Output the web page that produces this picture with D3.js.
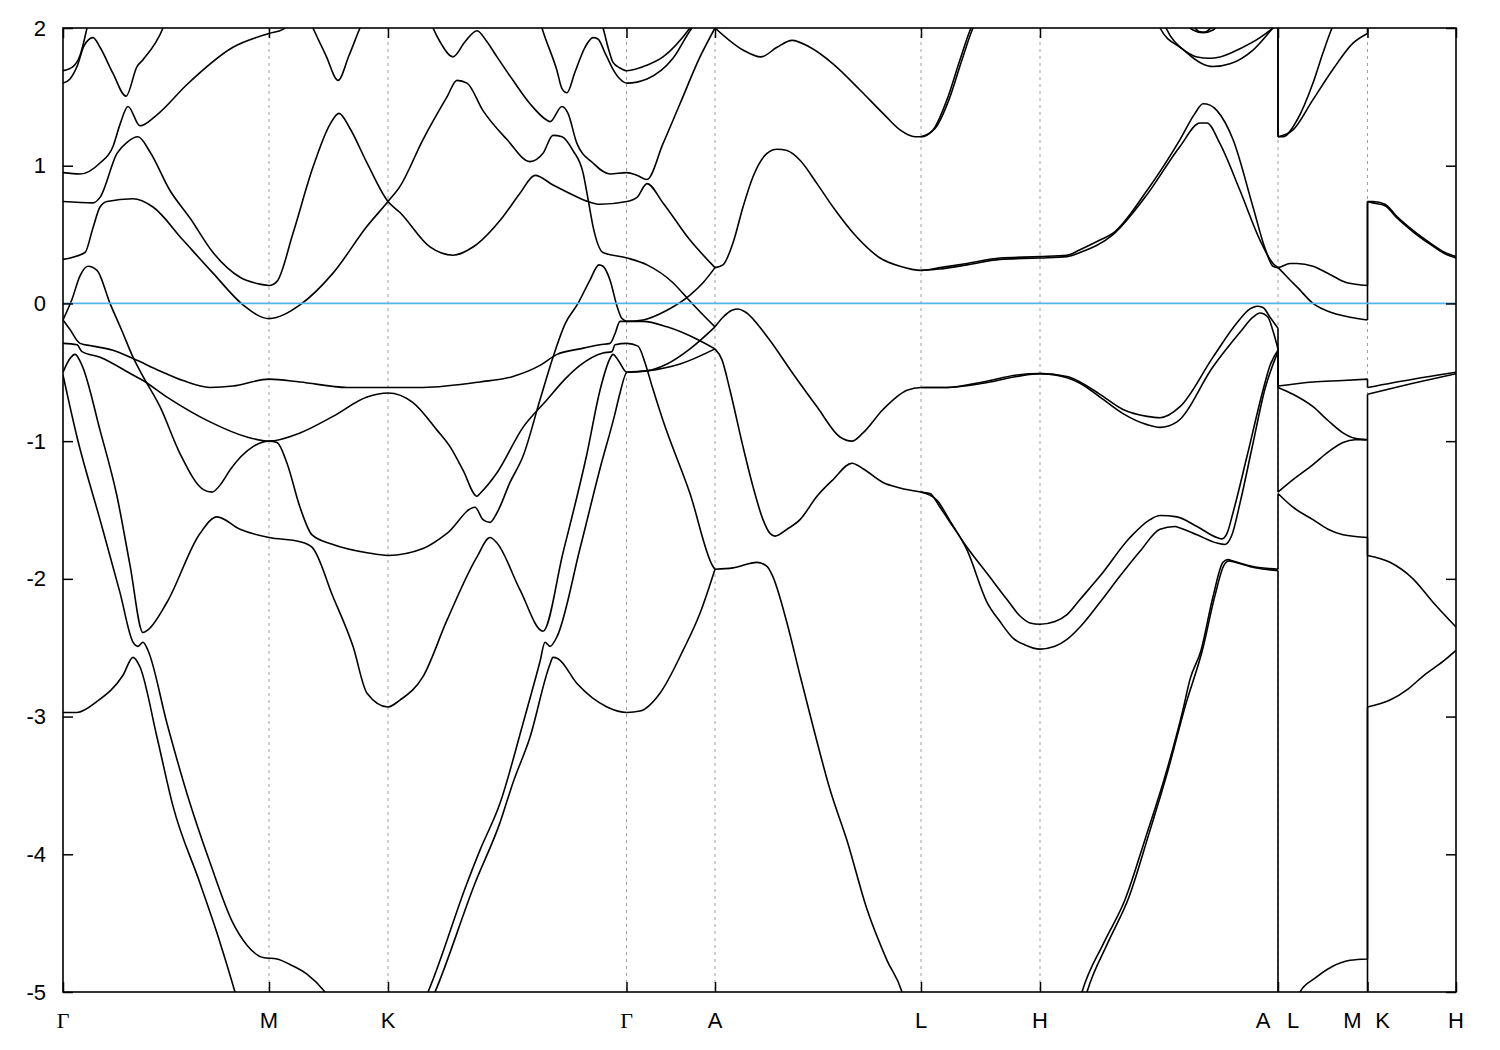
<!DOCTYPE html>
<html><head><meta charset="utf-8">
<script src="https://cdn.jsdelivr.net/npm/d3@7"></script>
<style>body{margin:0;background:#fff}</style>
</head><body>
<svg id="chart" width="1500" height="1050"></svg>
<script>
// ---- data ----
const kTicks = [0, 2.06, 3.25, 5.635, 6.52, 8.58, 9.77, 12.15, 13.045, 13.93];
const kLabels = ["Γ","M","K","Γ","A","L","H","A|L","M|K","H"];
const eTicks = [2,1,0,-1,-2,-3,-4,-5];
const eRange = [-5, 2];
const fermiLevel = 0;

const bandT1 = [[0,1.69],[0.10,1.72],[0.17,1.80],[0.24,2.0],[0.27,2.1]];
const bandT2 = [[0,1.60],[0.07,1.63],[0.14,1.72],[0.21,1.87],[0.30,1.93],[0.37,1.86],[0.50,1.67],[0.63,1.505],[0.74,1.72],[0.80,1.77],[1.00,2.0],[1.05,2.1]];
const bandB = [[0,0.95],[0.17,0.94],[0.37,1.02],[0.50,1.14],[0.57,1.30],[0.65,1.43],[0.77,1.29],[0.94,1.37],[1.24,1.59],[1.70,1.86],[2.06,1.96],[2.20,1.99],[2.27,2.05]];
const bandV = [[2.47,2.05],[2.50,2.0],[2.63,1.80],[2.75,1.62],[2.86,1.80],[2.97,2.0],[3.00,2.05]];
const bandC = [[0,0.74],[0.30,0.73],[0.37,0.77],[0.54,1.09],[0.64,1.17],[0.75,1.21],[0.87,1.10],[1.07,0.82],[1.27,0.62],[1.50,0.37],[1.77,0.19],[1.97,0.14],[2.06,0.13],[2.14,0.16],[2.30,0.51],[2.50,0.99],[2.67,1.30],[2.76,1.38],[2.87,1.27],[3.04,1.02],[3.25,0.74],[3.37,0.66],[3.67,0.41],[3.90,0.35],[4.10,0.41],[4.40,0.63],[4.57,0.80],[4.72,0.93],[4.90,0.86],[5.12,0.78],[5.25,0.74],[5.37,0.72],[5.64,0.74],[5.74,0.77],[5.84,0.87],[6.00,0.73],[6.27,0.46],[6.52,0.26]];
const bandD = [[0,0.32],[0.22,0.37],[0.30,0.55],[0.37,0.70],[0.44,0.74],[0.70,0.76],[0.90,0.70],[1.20,0.46],[1.50,0.22],[1.80,-0.01],[2.06,-0.11],[2.37,-0.01],[2.70,0.22],[3.04,0.56],[3.25,0.74],[3.37,0.85],[3.60,1.19],[3.84,1.50],[3.94,1.62],[4.04,1.60],[4.20,1.40],[4.44,1.19],[4.67,1.03],[4.80,1.09],[4.90,1.22],[4.99,1.21],[5.10,1.11],[5.20,0.95],[5.25,0.76],[5.30,0.56],[5.40,0.37],[5.64,0.33],[5.84,0.28],[6.10,0.15],[6.24,0.04],[6.37,-0.06],[6.52,-0.17]];
const bandT3 = [[3.67,2.05],[3.70,2.0],[3.77,1.90],[3.90,1.79],[4.02,1.90],[4.14,1.98],[4.24,1.90],[4.34,1.79],[4.50,1.62],[4.67,1.45],[4.84,1.33],[4.87,1.32],[4.99,1.43],[5.05,1.38],[5.14,1.16],[5.30,1.02],[5.47,0.94],[5.64,0.95],[5.74,0.93],[5.84,0.90],[6.00,1.16],[6.17,1.45],[6.37,1.79],[6.52,2.0]];
const bandT4 = [[4.77,2.05],[4.79,2.0],[4.94,1.69],[4.99,1.56],[5.04,1.53],[5.12,1.68],[5.22,1.86],[5.30,1.93],[5.35,1.92],[5.42,1.82],[5.50,1.70],[5.57,1.63],[5.64,1.60],[5.84,1.63],[6.10,1.78],[6.29,2.0],[6.35,2.05]];
const bandT5 = [[5.37,2.05],[5.40,2.0],[5.45,1.86],[5.50,1.75],[5.57,1.71],[5.64,1.69],[5.84,1.73],[6.00,1.79],[6.27,2.0],[6.32,2.05]];
const bandE = [[0,-0.12],[0.09,0.03],[0.17,0.20],[0.25,0.27],[0.34,0.24],[0.47,0.0],[0.59,-0.20],[0.70,-0.39],[0.80,-0.53],[0.97,-0.75],[1.17,-1.09],[1.40,-1.35],[1.49,-1.37],[1.59,-1.30],[1.67,-1.21],[1.90,-1.04],[2.06,-1.0],[2.14,-1.01],[2.24,-1.16],[2.37,-1.48],[2.49,-1.68],[2.70,-1.75],[3.04,-1.81],[3.25,-1.83],[3.60,-1.78],[3.84,-1.67],[4.12,-1.48],[4.20,-1.57],[4.27,-1.59],[4.34,-1.52],[4.47,-1.30],[4.60,-1.11],[4.77,-0.70],[4.90,-0.39],[5.02,-0.15],[5.15,0.0],[5.27,0.17],[5.36,0.28],[5.40,0.27],[5.47,0.17],[5.54,-0.02],[5.59,-0.11],[5.64,-0.13],[5.80,-0.13],[6.04,-0.17],[6.34,-0.26],[6.52,-0.33]];
const bandF1 = [[0,-0.12],[0.07,-0.19],[0.17,-0.29],[0.30,-0.31],[0.50,-0.34],[0.70,-0.40],[0.97,-0.49],[1.20,-0.56],[1.47,-0.61],[1.70,-0.60],[2.06,-0.55],[2.37,-0.57],[2.84,-0.61],[3.25,-0.61],[3.60,-0.61],[4.17,-0.57],[4.50,-0.53],[4.77,-0.45],[4.94,-0.37],[5.17,-0.33],[5.37,-0.30],[5.47,-0.29],[5.52,-0.22],[5.57,-0.13],[5.64,-0.13],[5.80,-0.12],[6.04,-0.05],[6.27,0.06],[6.40,0.15],[6.52,0.26]];
const bandF2 = [[0,-0.29],[0.14,-0.30],[0.19,-0.35],[0.37,-0.39],[0.70,-0.52],[0.80,-0.56],[1.04,-0.68],[1.47,-0.86],[1.84,-0.97],[2.06,-1.0],[2.37,-0.94],[2.70,-0.82],[3.04,-0.68],[3.25,-0.65],[3.50,-0.72],[3.74,-0.92],[3.87,-1.04],[4.00,-1.21],[4.14,-1.40],[4.17,-1.38],[4.34,-1.23],[4.60,-0.90],[4.84,-0.70],[5.02,-0.55],[5.17,-0.45],[5.40,-0.36],[5.49,-0.35],[5.52,-0.30],[5.64,-0.29],[5.75,-0.31],[5.82,-0.43],[5.89,-0.60],[6.00,-0.85],[6.27,-1.38],[6.50,-1.91],[6.52,-1.93]];
const bandG2 = [[0,-0.50],[0.07,-0.40],[0.12,-0.37],[0.19,-0.45],[0.37,-0.92],[0.54,-1.40],[0.67,-1.90],[0.80,-2.39],[0.85,-2.37],[1.04,-2.17],[1.37,-1.67],[1.54,-1.55],[1.77,-1.64],[2.06,-1.70],[2.37,-1.73],[2.49,-1.77],[2.70,-2.13],[2.90,-2.49],[3.04,-2.83],[3.25,-2.93],[3.37,-2.88],[3.60,-2.71],[3.84,-2.30],[4.14,-1.84],[4.27,-1.70],[4.34,-1.74],[4.57,-2.08],[4.80,-2.38],[5.00,-1.81],[5.24,-1.09],[5.37,-0.63],[5.47,-0.40],[5.50,-0.37],[5.55,-0.41],[5.64,-0.50],[5.84,-0.49],[6.04,-0.44],[6.27,-0.33],[6.52,-0.17]];
const bandG1 = [[0,-0.52],[0.14,-0.97],[0.37,-1.57],[0.57,-2.10],[0.70,-2.46],[0.75,-2.49],[0.80,-2.46],[0.85,-2.52],[1.04,-3.05],[1.24,-3.56],[1.47,-4.06],[1.70,-4.50],[1.84,-4.66],[2.00,-4.75],[2.14,-4.76],[2.27,-4.80],[2.44,-4.87],[2.62,-5.0],[2.67,-5.05]];
const bandG1r = [[3.62,-5.05],[3.65,-5.0],[4.04,-4.21],[4.17,-3.97],[4.37,-3.63],[4.60,-3.05],[4.77,-2.60],[4.82,-2.46],[4.87,-2.49],[4.94,-2.42],[5.17,-1.78],[5.37,-1.20],[5.52,-0.80],[5.57,-0.65],[5.64,-0.50],[5.84,-0.49],[6.17,-0.44],[6.52,-0.33]];
const bandH = [[0,-2.97],[0.14,-2.97],[0.34,-2.89],[0.60,-2.70],[0.70,-2.57],[0.77,-2.64],[0.94,-3.15],[1.10,-3.65],[1.37,-4.21],[1.57,-4.64],[1.72,-5.0],[1.74,-5.05]];
const bandHr = [[3.69,-5.05],[3.72,-5.0],[4.12,-4.21],[4.37,-3.77],[4.50,-3.48],[4.67,-3.15],[4.87,-2.62],[4.90,-2.57],[4.95,-2.58],[5.14,-2.76],[5.44,-2.93],[5.64,-2.97],[5.77,-2.96],[5.97,-2.83],[6.20,-2.52],[6.37,-2.25],[6.52,-1.93]];

const bandAL1 = [[6.52,2.0],[6.80,1.84],[6.98,1.79],[7.14,1.86],[7.29,1.91],[7.47,1.86],[7.70,1.74],[7.97,1.55],[8.20,1.38],[8.37,1.26],[8.52,1.21],[8.58,1.21],[8.70,1.26],[8.84,1.48],[8.97,1.77],[9.08,2.0],[9.12,2.06]];
const bandAL1b = [[8.58,1.21],[8.72,1.27],[8.86,1.48],[8.99,1.77],[9.10,2.0],[9.14,2.06]];
const bandAL2 = [[6.52,0.26],[6.60,0.28],[6.70,0.44],[6.80,0.70],[6.90,0.92],[7.04,1.09],[7.14,1.12],[7.24,1.11],[7.37,1.04],[7.54,0.87],[7.70,0.70],[7.94,0.48],[8.17,0.33],[8.37,0.27],[8.58,0.24],[8.77,0.26],[9.04,0.29],[9.37,0.33],[9.77,0.34],[10.04,0.35],[10.17,0.39],[10.37,0.46],[10.50,0.51],[10.84,0.82],[11.17,1.19],[11.32,1.38],[11.40,1.45],[11.47,1.44],[11.54,1.40],[11.70,1.19],[11.90,0.70],[12.02,0.40],[12.10,0.27],[12.15,0.26],[12.27,0.29],[12.34,0.29],[12.50,0.27],[12.67,0.21],[12.84,0.15],[13.045,0.13],[13.045,0.74],[13.10,0.74],[13.22,0.72],[13.34,0.63],[13.50,0.53],[13.67,0.44],[13.82,0.37],[13.93,0.34]];
const bandAL2b = [[8.58,0.24],[8.77,0.25],[9.04,0.28],[9.37,0.32],[9.77,0.33],[10.04,0.34],[10.17,0.37],[10.50,0.50],[10.84,0.79],[11.17,1.14],[11.37,1.31],[11.44,1.31],[11.57,1.16],[11.77,0.82],[11.97,0.46],[12.10,0.29],[12.15,0.26],[12.27,0.17],[12.34,0.12],[12.50,0.0],[12.70,-0.07],[12.87,-0.10],[13.045,-0.12],[13.045,0.74],[13.10,0.73],[13.22,0.71],[13.34,0.62],[13.50,0.52],[13.67,0.43],[13.82,0.36],[13.93,0.33]];
const bandAL3 = [[6.52,-0.17],[6.60,-0.10],[6.69,-0.05],[6.75,-0.04],[6.82,-0.06],[7.04,-0.24],[7.30,-0.51],[7.54,-0.75],[7.77,-0.97],[7.89,-1.0],[8.00,-0.94],[8.20,-0.77],[8.44,-0.63],[8.58,-0.61],[8.84,-0.61],[9.20,-0.57],[9.54,-0.52],[9.77,-0.51],[10.04,-0.53],[10.17,-0.57],[10.37,-0.66],[10.60,-0.77],[10.84,-0.82],[10.97,-0.83],[11.17,-0.75],[11.50,-0.39],[11.74,-0.14],[11.87,-0.04],[11.94,-0.02],[12.00,-0.03],[12.07,-0.10],[12.15,-0.18],[12.15,-0.60],[12.50,-0.57],[12.80,-0.56],[13.045,-0.55],[13.045,-0.61],[13.50,-0.55],[13.93,-0.50]];
const bandAL3b = [[8.58,-0.61],[8.84,-0.61],[9.20,-0.58],[9.54,-0.53],[9.77,-0.51],[10.04,-0.54],[10.17,-0.58],[10.37,-0.68],[10.60,-0.80],[10.84,-0.88],[10.97,-0.90],[11.14,-0.86],[11.50,-0.46],[11.77,-0.21],[11.90,-0.10],[11.97,-0.07],[12.05,-0.10],[12.10,-0.20],[12.15,-0.33],[12.15,-0.61],[12.30,-0.66],[12.50,-0.75],[12.65,-0.85],[12.80,-0.94],[12.92,-0.98],[13.045,-0.99],[13.045,-0.66],[13.50,-0.58],[13.93,-0.51]];
const bandAL4 = [[6.52,-0.33],[6.59,-0.41],[6.67,-0.63],[6.80,-1.04],[6.90,-1.33],[7.00,-1.57],[7.07,-1.67],[7.12,-1.69],[7.24,-1.64],[7.37,-1.57],[7.54,-1.40],[7.70,-1.28],[7.89,-1.16],[8.00,-1.20],[8.20,-1.30],[8.37,-1.34],[8.58,-1.37],[8.67,-1.38],[8.77,-1.48],[8.90,-1.62],[9.04,-1.77],[9.24,-1.96],[9.44,-2.15],[9.57,-2.27],[9.67,-2.32],[9.77,-2.33],[9.92,-2.31],[10.04,-2.26],[10.17,-2.15],[10.37,-1.98],[10.67,-1.70],[10.87,-1.57],[10.97,-1.54],[11.14,-1.55],[11.34,-1.62],[11.54,-1.70],[11.59,-1.71],[11.64,-1.67],[11.70,-1.52],[11.84,-1.11],[12.00,-0.63],[12.07,-0.45],[12.15,-0.34],[12.15,-1.37],[12.30,-1.28],[12.50,-1.17],[12.65,-1.08],[12.80,-1.01],[12.92,-0.99],[13.045,-0.99],[13.045,-1.83],[13.27,-1.88],[13.50,-2.0],[13.70,-2.17],[13.93,-2.35]];
const bandAL4b = [[8.58,-1.37],[8.74,-1.43],[8.87,-1.58],[9.04,-1.79],[9.24,-2.17],[9.37,-2.31],[9.50,-2.43],[9.62,-2.48],[9.77,-2.51],[9.92,-2.49],[10.04,-2.44],[10.17,-2.35],[10.37,-2.17],[10.57,-1.98],[10.77,-1.80],[10.97,-1.64],[11.12,-1.62],[11.17,-1.63],[11.34,-1.68],[11.54,-1.74],[11.62,-1.75],[11.69,-1.68],[11.77,-1.45],[11.89,-1.05],[12.02,-0.62],[12.15,-0.35]];
const bandAL5 = [[6.52,-1.93],[6.70,-1.92],[6.94,-1.88],[7.04,-1.91],[7.09,-1.97],[7.24,-2.32],[7.37,-2.70],[7.50,-3.07],[7.67,-3.53],[7.84,-3.90],[8.04,-4.40],[8.24,-4.77],[8.39,-5.0],[8.41,-5.05]];
const bandHA1 = [[10.17,-5.05],[10.19,-5.0],[10.41,-4.64],[10.62,-4.33],[10.83,-3.87],[11.03,-3.41],[11.20,-2.95],[11.27,-2.73],[11.38,-2.52],[11.50,-2.13],[11.60,-1.88],[11.65,-1.86],[11.70,-1.87],[11.90,-1.91],[12.15,-1.93],[12.15,-1.38],[12.30,-1.48],[12.50,-1.57],[12.65,-1.64],[12.80,-1.68],[13.045,-1.70],[13.045,-5.6]];
const bandHA1b = [[10.22,-5.05],[10.24,-5.0],[10.45,-4.64],[10.66,-4.31],[10.86,-3.85],[11.05,-3.39],[11.22,-2.93],[11.40,-2.50],[11.52,-2.12],[11.61,-1.90],[11.66,-1.87],[11.72,-1.88],[11.92,-1.92],[12.15,-1.94],[12.15,-5.6],[12.37,-5.0],[12.52,-4.90],[12.68,-4.82],[12.87,-4.77],[13.045,-4.76],[13.045,-2.93],[13.27,-2.88],[13.45,-2.80],[13.61,-2.70],[13.80,-2.60],[13.93,-2.52]];
const bandHAtop1 = [[10.94,2.05],[10.97,2.0],[11.17,1.86],[11.34,1.79],[11.47,1.78],[11.57,1.79],[11.77,1.85],[11.97,1.93],[12.10,2.0],[12.15,2.03],[12.15,1.21],[12.20,1.21],[12.34,1.33],[12.50,1.60],[12.60,1.82],[12.69,2.0],[12.72,2.05]];
const bandHAtop2 = [[11.00,2.05],[11.03,2.0],[11.24,1.82],[11.50,1.72],[11.67,1.74],[11.90,1.84],[12.10,2.0],[12.15,2.04],[12.15,1.21],[12.30,1.26],[12.50,1.48],[12.70,1.70],[12.90,1.89],[13.045,1.96],[13.045,2.1]];
const bandLoop1 = [[11.24,2.02],[11.30,1.985],[11.40,1.965],[11.50,1.985],[11.55,2.02]];
const bandLoop2 = [[11.30,2.02],[11.36,1.975],[11.42,1.97],[11.48,2.0],[11.52,2.02]];

const bands = [bandT1,bandT2,bandB,bandV,bandC,bandD,bandT3,bandT4,bandT5,bandE,bandF1,bandF2,bandG2,bandG1,bandG1r,bandH,bandHr,
  bandAL1,bandAL1b,bandAL2,bandAL2b,bandAL3,bandAL3b,bandAL4,bandAL4b,bandAL5,bandHA1,bandHA1b,bandHAtop1,bandHAtop2,bandLoop1,bandLoop2];

// ---- layout ----
const L = 63, R = 1456, T = 28, B = 992;
const font = "'Liberation Sans', Arial, Helvetica, sans-serif";
const serif = "'Liberation Serif', 'DejaVu Serif', 'Times New Roman', serif";
const svg = d3.select("#chart");
svg.append("rect").attr("width",1500).attr("height",1050).attr("fill","#fff");

const x = d3.scaleLinear().domain([kTicks[0], kTicks[kTicks.length-1]]).range([L, R]);
const y = d3.scaleLinear().domain(eRange).range([B, T]);

svg.append("defs").append("clipPath").attr("id","plotclip")
  .append("rect").attr("x",L).attr("y",T).attr("width",R-L).attr("height",B-T);

// dashed vertical lines at high-symmetry points
svg.append("g").selectAll("line").data(kTicks.slice(1,-1)).join("line")
  .attr("x1",d=>x(d)).attr("x2",d=>x(d)).attr("y1",T).attr("y2",B)
  .attr("stroke","#a0a0a0").attr("stroke-width",1).attr("stroke-dasharray","3,4");

// bands: smooth along k, straight at path discontinuities (same k)
const smooth = d3.line().x(p=>x(p[0])).y(p=>y(p[1])).curve(d3.curveMonotoneX);
function bandPath(pts){
  let d = "", run = [pts[0]];
  for (let i=1;i<pts.length;i++){
    if (pts[i][0] === pts[i-1][0]) {
      if (run.length>1) d += smooth(run);
      d += `M${x(pts[i-1][0])},${y(pts[i-1][1])}L${x(pts[i][0])},${y(pts[i][1])}`;
      run = [pts[i]];
    } else run.push(pts[i]);
  }
  if (run.length>1) d += smooth(run);
  return d;
}
svg.append("g").attr("clip-path","url(#plotclip)").selectAll("path").data(bands).join("path")
  .attr("d", bandPath).attr("fill","none").attr("stroke","#000").attr("stroke-width",1.6)
  .attr("stroke-linejoin","round");

// Fermi level
svg.append("line").attr("x1",L).attr("x2",R).attr("y1",y(fermiLevel)).attr("y2",y(fermiLevel))
  .attr("stroke","#56b4e9").attr("stroke-width",1.8);

// axes (ticks inward)
function styleAxis(g){ g.select(".domain").remove(); g.selectAll(".tick line").attr("stroke","#000").attr("stroke-width",1.5); }
svg.append("g").attr("transform",`translate(0,${B})`).call(d3.axisBottom(x).tickValues(kTicks).tickSize(-10).tickFormat("")).call(styleAxis);
svg.append("g").attr("transform",`translate(0,${T})`).call(d3.axisTop(x).tickValues(kTicks).tickSize(-10).tickFormat("")).call(styleAxis);
svg.append("g").attr("transform",`translate(${R},0)`).call(d3.axisRight(y).tickValues(eTicks).tickSize(-10).tickFormat("")).call(styleAxis);
const yAx = svg.append("g").attr("transform",`translate(${L},0)`)
  .call(d3.axisLeft(y).tickValues(eTicks).tickSize(-10).tickPadding(17).tickFormat(d=>String(d))).call(styleAxis);
yAx.selectAll("text").attr("font-family",font).attr("font-size",22).attr("fill","#000");

// x labels
const xl = svg.append("g");
kTicks.forEach((k,i)=>{
  const parts = kLabels[i].split("|");
  const offs = parts.length===2 ? [-15,15] : [0];
  parts.forEach((p,j)=>{
    xl.append("text").attr("x",x(k)+offs[j]).attr("y",1028).attr("text-anchor","middle")
      .attr("font-family", p==="Γ"?serif:font).attr("font-size",22).attr("fill","#000").text(p);
  });
});

// border
svg.append("rect").attr("x",L).attr("y",T).attr("width",R-L).attr("height",B-T)
  .attr("fill","none").attr("stroke","#000").attr("stroke-width",1.6);
</script>
</body></html>
